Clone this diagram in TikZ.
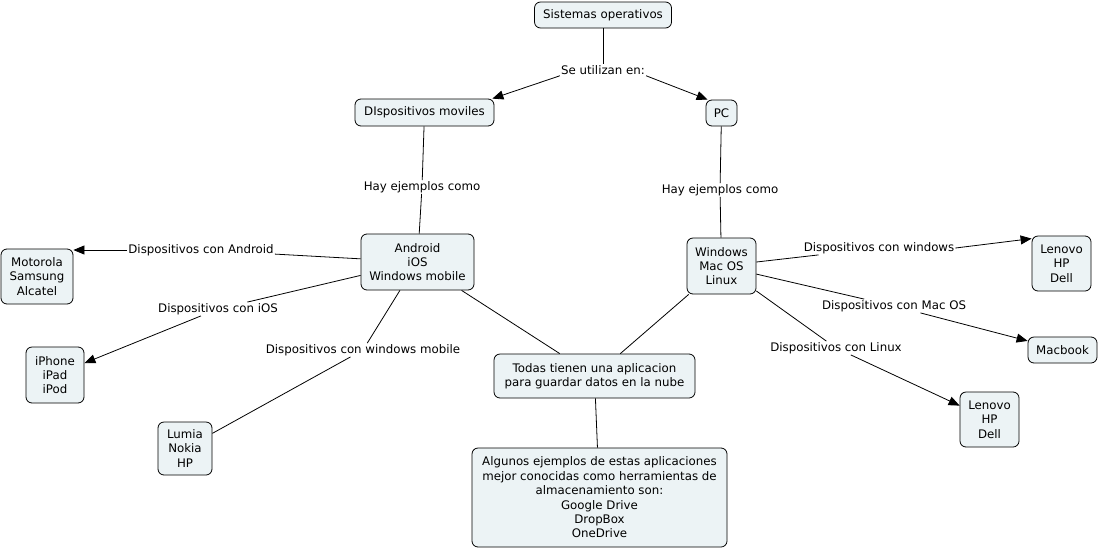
\documentclass[tikz,border=0pt]{standalone}
\usepackage{fontspec}
\setmainfont{DejaVu Sans}
\usetikzlibrary{arrows.meta}
\definecolor{boxfill}{RGB}{236,243,245}
\tikzset{
  concept/.style={draw=black, fill=boxfill, rounded corners=6pt, align=center, inner sep=0pt, line width=0.8pt, font=\fontsize{11.8}{14.4}\selectfont},
  linklabel/.style={align=center, inner sep=1pt, font=\fontsize{11.8}{14.4}\selectfont},
  conn/.style={line width=0.8pt},
  arr/.style={line width=0.8pt, -{Triangle[length=11pt,width=9pt]}}
}
\begin{document}
\begin{tikzpicture}[x=1pt,y=-1pt]
\useasboundingbox[fill=white] (0,0) rectangle (1099,549);
% concepts
\node[concept, minimum width=137, minimum height=26] (so) at (603,15) {Sistemas operativos};
\node[concept, minimum width=139, minimum height=27] (dm) at (424.5,112.5) {DIspositivos moviles};
\node[concept, minimum width=31, minimum height=26] (pc) at (721.5,113) {PC};
\node[concept, minimum width=113, minimum height=56] (and) at (417.5,262) {Android\\iOS\\Windows mobile};
\node[concept, minimum width=69, minimum height=56] (win) at (721.5,266) {Windows\\Mac OS\\Linux};
\node[concept, minimum width=72, minimum height=55] (mot) at (37,276.5) {Motorola\\Samsung\\Alcatel};
\node[concept, minimum width=58, minimum height=56] (iph) at (55,375) {iPhone\\iPad\\iPod};
\node[concept, minimum width=54, minimum height=53] (lum) at (185,448.5) {Lumia\\Nokia\\HP};
\node[concept, minimum width=59, minimum height=55] (len1) at (1061.5,263.5) {Lenovo\\HP\\Dell};
\node[concept, minimum width=69, minimum height=26] (mac) at (1062.5,350) {Macbook};
\node[concept, minimum width=59, minimum height=55] (len2) at (989.5,419.5) {Lenovo\\HP\\Dell};
\node[concept, minimum width=201, minimum height=44] (tod) at (594.5,376) {Todas tienen una aplicacion\\para guardar datos en la nube};
\node[concept, minimum width=255, minimum height=99] (alg) at (599.5,497.5) {Algunos ejemplos de estas aplicaciones\\mejor conocidas como herramientas de\\almacenamiento son:\\Google Drive\\DropBox\\OneDrive};
% link labels
\node[linklabel] (se) at (603,70) {Se utilizan en:};
\node[linklabel] (hay1) at (422,187) {Hay ejemplos como};
\node[linklabel] (hay2) at (720,190) {Hay ejemplos como};
\node[linklabel] (lan) at (201,250) {Dispositivos con Android};
\node[linklabel] (lios) at (218,309) {Dispositivos con iOS};
\node[linklabel] (lwm) at (363,350) {Dispositivos con windows mobile};
\node[linklabel] (lwin) at (879,248) {Dispositivos con windows};
\node[linklabel] (lmac) at (894,306) {Dispositivos con Mac OS};
\node[linklabel] (llin) at (836,348) {Dispositivos con Linux};
% connectors
\draw[conn] (so) -- (se);
\draw[arr] (se.south west) -- ([xshift=-2pt]dm.north east);
\draw[arr] (se.south east) -- ([xshift=2pt]pc.north west);
\draw[conn] (dm) -- (hay1);
\draw[conn] (hay1) -- (and);
\draw[conn] (pc) -- (hay2);
\draw[conn] (hay2) -- (win);
\draw[conn] (and) -- (lan);
\draw[arr] (lan.west) -- (mot.east |- lan.west);
\draw[conn] (and) -- (lios);
\draw[arr] (lios) -- (iph);
\draw[conn] (and) -- (lwm);
\draw[conn] (lwm) -- (lum);
\draw[conn] (and) -- (tod);
\draw[conn] (win) -- (tod);
\draw[conn] (tod) -- (alg);
\draw[conn] (win) -- (lwin);
\draw[arr] (lwin.east) -- ([yshift=-3pt]len1.north west);
\draw[conn] (win) -- (lmac);
\draw[arr] (lmac) -- (mac);
\draw[conn] (win) -- (llin);
\draw[arr] (llin) -- (len2);
\end{tikzpicture}
\end{document}
